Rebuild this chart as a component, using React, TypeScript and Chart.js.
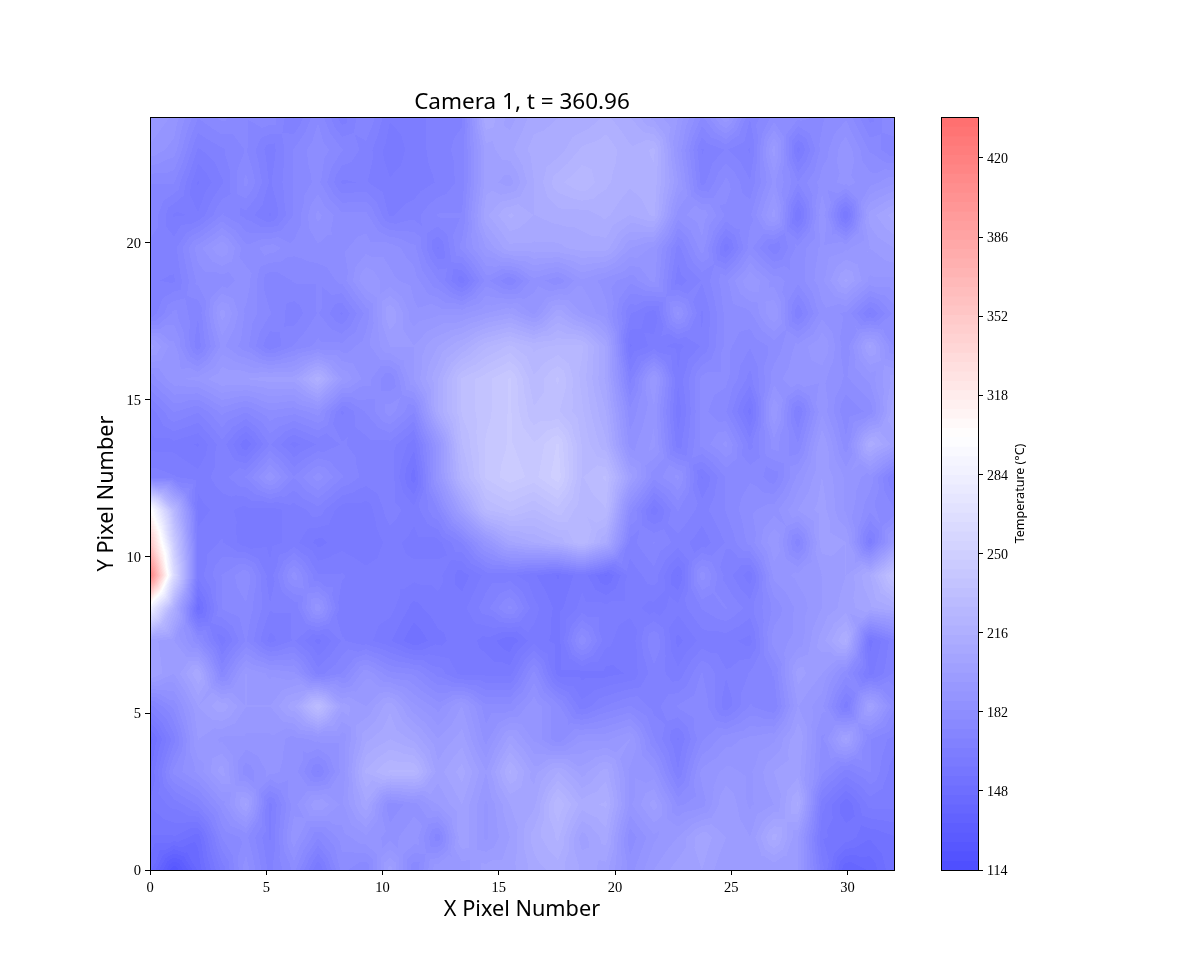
import React, { useEffect, useRef } from "react";
import { Chart, registerables } from "chart.js";

Chart.register(...registerables);

const TITLE = "Camera 1, t = 360.96";
const X_LABEL = "X Pixel Number";
const Y_LABEL = "Y Pixel Number";
const BAR_LABEL = "Temperature (°C)";
const SANS = '"Noto Sans", "Open Sans", sans-serif';
const SERIF = '"Liberation Serif", serif';

const xTicks = [0, 5, 10, 15, 20, 25, 30];
const yTicks = [0, 5, 10, 15, 20];
const colorbarTicks = [114, 148, 182, 216, 250, 284, 318, 352, 386, 420];
const T_MIN = 114;
const T_MAX = 437.6;
const T_WHITE = 300;
const BAND_COUNT = 80;

const row00 = [148,122,143,164,185,169,180,158,180,175,201,175,195,192,201,201,209,213,206,201,185,195,201,203,195,195,195,195,164,138,143,154];
const row01 = [154,154,148,175,180,166,190,175,185,190,185,190,172,203,190,199,213,220,201,209,180,190,195,206,199,195,213,195,159,157,151,154];
const row02 = [159,164,171,185,204,165,185,199,190,206,180,185,195,203,190,203,206,227,213,216,190,201,182,185,199,190,195,212,164,151,164,164];
const row03 = [154,180,188,201,180,188,185,170,188,216,224,224,201,209,195,216,201,211,201,209,190,188,167,188,192,190,199,201,180,169,175,164];
const row04 = [148,169,195,190,190,190,185,188,188,206,211,206,195,201,185,201,190,180,190,190,195,175,162,178,185,188,190,203,182,204,175,169];
const row05 = [169,180,199,206,195,195,206,232,201,195,206,192,185,195,180,180,190,180,164,171,175,169,175,178,164,175,171,195,188,164,204,180];
const row06 = [203,195,211,175,195,190,188,169,175,190,180,178,169,161,161,161,180,157,157,157,159,169,164,175,167,171,175,201,195,180,161,171];
const row07 = [201,195,180,160,175,161,167,157,167,164,159,151,157,161,157,151,161,157,182,164,159,175,157,164,164,161,185,188,201,216,157,169];
const row08 = [285,215,148,175,178,167,167,190,164,164,164,157,161,161,169,180,164,157,164,164,164,161,164,171,175,169,180,188,195,201,206,211];
const row09 = [420,262,164,175,182,164,185,167,167,164,164,164,164,156,164,164,159,154,161,150,164,169,154,185,169,160,188,192,195,199,211,237];
const row10 = [355,245,164,167,160,161,164,157,161,159,164,161,161,171,190,206,211,216,227,211,169,175,169,164,171,180,195,172,201,199,164,195];
const row11 = [305,225,161,164,161,161,164,169,160,160,169,164,175,201,227,232,227,234,224,227,180,160,175,169,175,182,185,195,201,190,180,175];
const row12 = [169,167,164,169,175,190,175,185,175,169,169,152,190,222,240,246,242,250,227,232,201,180,188,162,175,178,172,188,199,190,185,166];
const row13 = [161,161,158,169,155,171,161,167,171,169,169,160,190,227,240,244,240,248,227,216,185,192,164,180,188,169,185,175,199,180,214,201];
const row14 = [164,175,171,180,175,182,180,185,166,175,185,175,211,232,238,244,232,232,224,211,180,190,160,180,175,157,195,166,190,175,180,206];
const row15 = [180,190,192,199,199,201,201,218,195,185,175,195,211,232,238,244,228,236,222,206,169,195,163,180,180,169,185,190,188,182,188,201];
const row16 = [201,188,168,188,180,167,175,180,180,185,195,195,203,211,222,228,222,224,224,206,158,164,161,167,180,175,180,188,195,180,204,182];
const row17 = [167,180,171,197,182,175,168,175,166,180,203,188,190,190,195,199,190,206,195,188,167,160,188,166,180,182,195,167,185,182,166,180];
const row18 = [167,166,180,180,185,171,175,175,180,195,188,185,175,160,180,171,185,180,190,185,180,188,164,171,182,195,185,180,190,204,190,190];
const row19 = [169,169,185,195,180,185,180,182,182,185,185,180,162,180,195,206,206,206,209,209,195,190,169,185,160,180,167,180,188,190,195,199];
const row20 = [175,162,163,175,169,162,175,188,180,180,166,169,175,175,206,216,211,213,213,216,211,216,185,190,178,178,197,158,190,158,201,209];
const row21 = [175,175,158,166,180,166,175,180,166,167,163,164,167,172,201,197,211,222,227,220,216,218,195,169,180,171,188,175,185,188,185,190];
const row22 = [190,185,166,170,175,164,175,182,175,169,160,164,169,172,201,206,213,213,220,222,216,220,190,166,171,166,197,161,180,190,178,171];
const row23 = [195,190,175,180,175,178,166,178,164,175,163,164,169,170,211,201,209,211,211,216,211,201,195,178,195,171,180,180,178,182,169,180];

const rows = [row00,row01,row02,row03,row04,row05,row06,row07,row08,row09,row10,row11,row12,row13,row14,row15,row16,row17,row18,row19,row20,row21,row22,row23];
const X_MAX = 32;
const Y_MAX = 24;

const bandStep = (T_MAX - T_MIN) / BAND_COUNT;

function cmap(v: number): [number, number, number] {
  if (v <= T_WHITE) {
    const t = Math.max(0, (v - T_MIN) / (T_WHITE - T_MIN));
    const c = 77 + t * 178;
    return [c, c, 255];
  }
  const t = Math.min(1, (v - T_WHITE) / (T_MAX - T_WHITE));
  const c = 255 - t * 145;
  return [255, c, c];
}

function bandColor(v: number): [number, number, number] {
  const i = Math.max(0, Math.min(BAND_COUNT - 1, Math.floor((v - T_MIN) / bandStep)));
  return cmap(T_MIN + (i + 0.5) * bandStep);
}

// Same piecewise-linear surface as a contour fill: each quad is split at its centre.
function sample(gx: number, gy: number): number {
  const nx = rows[0].length - 1;
  const ny = rows.length - 1;
  const i = Math.max(0, Math.min(nx - 1, Math.floor(gx)));
  const j = Math.max(0, Math.min(ny - 1, Math.floor(gy)));
  const fx = gx - i;
  const fy = gy - j;
  const a = rows[j][i];
  const b = rows[j][i + 1];
  const c = rows[j + 1][i + 1];
  const d = rows[j + 1][i];
  const m = (a + b + c + d) / 4;
  if (fy <= fx && fy <= 1 - fx) return a + (b - a) * fx + (m - (a + b) / 2) * 2 * fy;
  if (fy >= fx && fy >= 1 - fx) return d + (c - d) * fx + (m - (c + d) / 2) * 2 * (1 - fy);
  if (fx < 0.5) return a + (d - a) * fy + (m - (a + d) / 2) * 2 * fx;
  return b + (c - b) * fy + (m - (b + c) / 2) * 2 * (1 - fx);
}

const heatPlugin = {
  id: "heatSurface",
  beforeDatasetsDraw(chart: any) {
    const { ctx, chartArea, scales } = chart;
    const left = Math.round(chartArea.left);
    const top = Math.round(chartArea.top);
    const w = Math.round(chartArea.right) - left;
    const h = Math.round(chartArea.bottom) - top;
    const img = ctx.createImageData(w, h);
    const nx = rows[0].length - 1;
    const ny = rows.length - 1;
    for (let py = 0; py < h; py++) {
      const gy = (scales.y.getValueForPixel(top + py + 0.5) / Y_MAX) * ny;
      for (let px = 0; px < w; px++) {
        const gx = (scales.x.getValueForPixel(left + px + 0.5) / X_MAX) * nx;
        const [r, g, b] = bandColor(sample(gx, gy));
        const k = (py * w + px) * 4;
        img.data[k] = r;
        img.data[k + 1] = g;
        img.data[k + 2] = b;
        img.data[k + 3] = 255;
      }
    }
    ctx.putImageData(img, left, top);
  },
};

const framePlugin = {
  id: "frame",
  afterDatasetsDraw(chart: any) {
    const { ctx, chartArea } = chart;
    ctx.save();
    ctx.strokeStyle = "#000";
    ctx.lineWidth = 1;
    ctx.strokeRect(
      Math.round(chartArea.left) + 0.5,
      Math.round(chartArea.top) + 0.5,
      Math.round(chartArea.right - chartArea.left),
      Math.round(chartArea.bottom - chartArea.top)
    );
    ctx.restore();
  },
};

const barLabelPlugin = {
  id: "barLabel",
  afterDraw(chart: any) {
    const { ctx, chartArea } = chart;
    ctx.save();
    ctx.translate(120, (chartArea.top + chartArea.bottom) / 2);
    ctx.rotate(-Math.PI / 2);
    ctx.fillStyle = "#000";
    ctx.font = `12.5px ${SANS}`;
    ctx.textAlign = "center";
    ctx.textBaseline = "middle";
    ctx.fillText(BAR_LABEL, 0, 0);
    ctx.restore();
  },
};

const points = rows.flatMap((row, j) =>
  row.map((v, i) => ({ x: (i / (row.length - 1)) * X_MAX, y: (j / (rows.length - 1)) * Y_MAX, v }))
);

const bandLevels = Array.from({ length: BAND_COUNT }, (_, i) => T_MIN + i * bandStep).reverse();

function axisCommon() {
  return {
    grid: { display: true, drawOnChartArea: false, drawTicks: true, tickLength: 5, color: "#000", lineWidth: 1 },
    border: { display: false },
  };
}
const tickText = { color: "#000", font: { family: SERIF, size: 14.5 }, padding: 4, maxRotation: 0, autoSkip: false };

export default function App() {
  const mainRef = useRef<HTMLCanvasElement>(null);
  const barRef = useRef<HTMLCanvasElement>(null);

  useEffect(() => {
    const main = new Chart(mainRef.current as HTMLCanvasElement, {
      type: "scatter",
      data: { datasets: [{ data: points, pointRadius: 0, showLine: false }] },
      plugins: [heatPlugin, framePlugin],
      options: {
        responsive: false,
        animation: false,
        events: [],
        layout: { padding: { left: 0, right: 306, top: 0, bottom: 0 } },
        plugins: {
          legend: { display: false },
          tooltip: { enabled: false },
          title: {
            display: true,
            text: TITLE,
            color: "#000",
            fullSize: false,
            font: { family: SANS, size: 22.5, weight: "normal" },
            padding: { top: 89.5, bottom: 0.5 },
          },
        },
        scales: {
          x: {
            type: "linear",
            min: 0,
            max: X_MAX,
            ...axisCommon(),
            ticks: tickText,
            afterBuildTicks(s: any) { s.ticks = xTicks.map((value) => ({ value })); },
            afterFit(s: any) { s.height = 107; },
            title: {
              display: true,
              text: X_LABEL,
              color: "#000",
              font: { family: SANS, size: 21.7, weight: "normal" },
              padding: { top: 0, bottom: 53.8 },
            },
          },
          y: {
            type: "linear",
            min: 0,
            max: Y_MAX,
            ...axisCommon(),
            ticks: { ...tickText, labelOffset: 1.5 },
            afterBuildTicks(s: any) { s.ticks = yTicks.map((value) => ({ value })); },
            afterFit(s: any) { s.width = 150; },
            title: {
              display: true,
              text: Y_LABEL,
              color: "#000",
              font: { family: SANS, size: 21.7, weight: "normal" },
              padding: { top: 93.8, bottom: 0 },
            },
          },
        },
      },
    } as any);

    const bar = new Chart(barRef.current as HTMLCanvasElement, {
      type: "bar",
      data: {
        labels: ["bar"],
        datasets: bandLevels.map((lo) => {
          const [r, g, b] = cmap(lo + bandStep / 2);
          return {
            data: [[lo, T_MAX]],
            backgroundColor: `rgb(${r},${g},${b})`,
            borderWidth: 0,
            barPercentage: 1,
            categoryPercentage: 1,
            grouped: false,
          };
        }),
      },
      plugins: [framePlugin, barLabelPlugin],
      options: {
        responsive: false,
        animation: false,
        events: [],
        layout: { padding: { left: 41, right: 0, top: 117, bottom: 107 } },
        plugins: { legend: { display: false }, tooltip: { enabled: false } },
        scales: {
          x: { display: false, offset: true, grid: { display: false } },
          y: {
            type: "linear",
            position: "right",
            min: T_MIN,
            max: T_MAX,
            ...axisCommon(),
            ticks: { ...tickText, font: { family: SERIF, size: 14 }, labelOffset: 1.5 },
            afterBuildTicks(s: any) { s.ticks = colorbarTicks.map((value) => ({ value })); },
            afterFit(s: any) { s.width = 222; },
          },
        },
      },
    } as any);

    return () => {
      main.destroy();
      bar.destroy();
    };
  }, []);

  return (
    <div style={{ position: "absolute", left: 0, top: 0, width: 1200, height: 977, background: "#fff" }}>
      <canvas ref={mainRef} width={1200} height={977} style={{ position: "absolute", left: 0, top: 0, display: "block" }} />
      <canvas ref={barRef} width={300} height={977} style={{ position: "absolute", left: 900, top: 0, display: "block" }} />
    </div>
  );
}
